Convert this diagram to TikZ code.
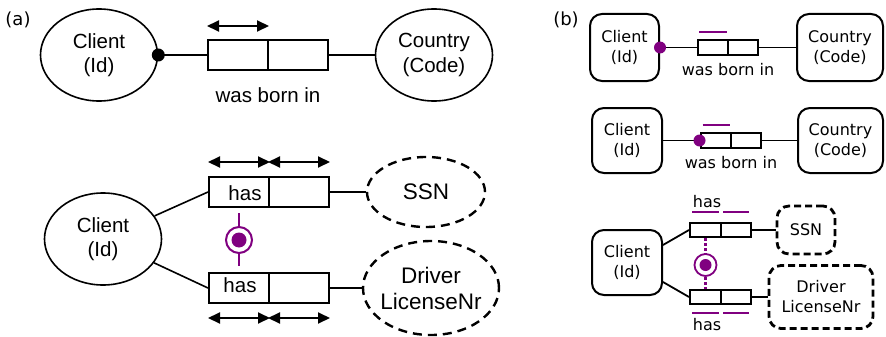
\documentclass[tikz,border=0pt]{standalone}
\usepackage{fontspec}
\setmainfont{Liberation Sans}
\newfontfamily\vfont{DejaVu Sans}
\usetikzlibrary{shapes.geometric,arrows.meta}
\definecolor{pu}{RGB}{128,0,128}
\begin{document}
\begin{tikzpicture}[x=1pt,y=-1pt,
  afont/.style={font=\fontsize{20.5}{24.5}\selectfont},
  bfont/.style={font=\vfont\fontsize{16}{20}\selectfont},
  ent/.style={ellipse,draw,line width=1.6pt,inner sep=0pt,align=center,afont,minimum width=117pt,minimum height=92pt},
  dent/.style={ellipse,draw,line width=2.4pt,dash pattern=on 9pt off 6pt,inner sep=0pt,align=center,font=\fontsize{22.5}{26}\selectfont},
  cell/.style={draw,line width=2pt,minimum width=60pt,minimum height=30pt,inner sep=0pt,afont},
  conn/.style={line width=1.6pt},
  spanarrow/.style={line width=2pt,{Triangle[length=12pt,width=11pt]}-{Triangle[length=12pt,width=11pt]}},
  bent/.style={draw,rounded corners=12pt,line width=2pt,align=center,bfont,inner sep=0pt},
  dbent/.style={bent,line width=2.8pt,dash pattern=on 7pt off 4pt},
  bcell/.style={draw,line width=2pt,minimum width=30pt,minimum height=15pt,inner sep=0pt},
  bconn/.style={line width=1.8pt},
  bar/.style={pu,line width=2.5pt},
]
\useasboundingbox (0,0) rectangle (886,337);
% ---------------- (a) ----------------
\node[font=\vfont\fontsize{18}{20}\selectfont] (la) at (18,20) {(a)};
\node[ent] (ca1) at (99,55) {Client\\(Id)};
\node[ent] (co1) at (434,55) {Country\\(Code)};
\node[cell] (r1a) at (238,55) {};
\node[cell] (r1b) at (298,55) {};
\draw[conn] (ca1.east) -- (r1a.west);
\draw[conn] (r1b.east) -- (co1.west);
\fill (ca1.east) circle (6.5pt);
\draw[spanarrow] ([yshift=13pt]r1a.north west) -- ([yshift=13pt]r1a.north east);
\node[afont] (wb1) at (268,95) {was born in};

\node[ent] (ca2) at (103,239) {Client\\(Id)};
\node[cell] (r2a) at (239,192) {};
\node[cell] (r2b) at (299,192) {};
\node[cell] (r3a) at (239,288) {};
\node[cell] (r3b) at (299,288) {};
\node[afont] (has1) at (245,193) {has};
\node[afont] (has2) at (240,285) {has};
\node[dent,minimum width=118pt,minimum height=70pt] (ssn1) at (426,192) {SSN};
\node[dent,minimum width=136pt,minimum height=94pt,inner xsep=-10pt] (dl1) at (431,288) {Driver\\LicenseNr};
\draw[conn] (ca2) -- (r2a.west);
\draw[conn] (ca2) -- (r3a.west);
\draw[conn] (r2b.east) -- (ssn1.west);
\draw[conn] (r3b.east) -- (dl1.west);
\draw[spanarrow] ([yshift=14pt]r2a.north west) -- ([yshift=14pt]r2a.north east);
\draw[spanarrow] ([yshift=14pt]r2b.north west) -- ([yshift=14pt]r2b.north east);
\draw[spanarrow] ([yshift=-14pt]r3a.south west) -- ([yshift=-14pt]r3a.south east);
\draw[spanarrow] ([yshift=-14pt]r3b.south west) -- ([yshift=-14pt]r3b.south east);
\node[circle,draw=pu,line width=2pt,minimum size=26pt,inner sep=0pt] (ex1) at (239,240) {};
\fill[pu] (ex1.center) circle (7.5pt);
\draw[pu,line width=2pt] ([yshift=-5pt]r2a.south) -- (ex1.north);
\draw[pu,line width=2pt] (ex1.south) -- ([yshift=6pt]r3a.north);

% ---------------- (b) ----------------
\node[font=\vfont\fontsize{18}{20}\selectfont] (lb) at (566,20) {(b)};
% row 1
\node[bent,minimum width=69pt,minimum height=67pt] (cb1) at (624.5,47.5) {Client\\(Id)};
\node[bent,minimum width=86pt,minimum height=67pt] (cc1) at (840,47.5) {Country\\(Code)};
\node[bcell] (b1a) at (713,47.5) {};
\node[bcell] (b1b) at (743,47.5) {};
\draw[bconn] (cb1.east) -- (b1a.west);
\draw[bconn] (b1b.east) -- (cc1.west);
\fill[pu] (cb1.east) circle (6pt);
\draw[bar] ([xshift=2pt,yshift=7pt]b1a.north west) -- ([xshift=-2pt,yshift=7pt]b1a.north east);
\node[bfont] (wb2) at (728,70) {was born in};
% row 2
\node[bent,minimum width=70pt,minimum height=65pt] (cb2) at (627,140.5) {Client\\(Id)};
\node[bent,minimum width=85pt,minimum height=65pt] (cc2) at (840.5,140.5) {Country\\(Code)};
\node[bcell] (b2a) at (715.5,140.5) {};
\node[bcell] (b2b) at (745.5,140.5) {};
\draw[bconn] (cb2.east) -- (b2a.west);
\draw[bconn] (b2b.east) -- (cc2.west);
\fill[pu] (b2a.west) circle (6pt);
\draw[bar] ([xshift=3pt,yshift=7pt]b2a.north west) -- ([xshift=-2pt,yshift=7pt]b2a.north east);
\node[bfont] (wb3) at (731,163) {was born in};
% row 3
\node[bent,minimum width=70pt,minimum height=65pt] (cb3) at (627,262.5) {Client\\(Id)};
\node[bcell,minimum width=31pt,minimum height=14pt] (b3a) at (705.5,230) {};
\node[bcell,minimum width=30pt,minimum height=14pt] (b3b) at (736,230) {};
\node[bcell,minimum width=31pt,minimum height=14pt] (b4a) at (705.5,297) {};
\node[bcell,minimum width=30pt,minimum height=14pt] (b4b) at (736,297) {};
\node[dbent,minimum width=58pt,minimum height=48pt] (ssn2) at (806,230) {SSN};
\node[dbent,minimum width=104pt,minimum height=63pt] (dl2) at (821,297) {Driver\\LicenseNr};
\draw[bconn] ([yshift=17.5pt]cb3.east) -- (b3a.west);
\draw[bconn] ([yshift=-19.5pt]cb3.east) -- (b4a.west);
\draw[bconn] (b3b.east) -- (ssn2.west);
\draw[bconn] (b4b.east) -- (dl2.west);
\node[bfont] (has3) at (707,202) {has};
\node[bfont] (has4) at (707,325) {has};
\draw[bar] ([xshift=3pt,yshift=10pt]b3a.north west) -- ([xshift=-3pt,yshift=10pt]b3a.north east);
\draw[bar] ([xshift=3pt,yshift=10pt]b3b.north west) -- ([xshift=-3pt,yshift=10pt]b3b.north east);
\draw[bar] ([xshift=3pt,yshift=-8pt]b4a.south west) -- ([xshift=-3pt,yshift=-8pt]b4a.south east);
\draw[bar] ([xshift=3pt,yshift=-8pt]b4b.south west) -- ([xshift=-3pt,yshift=-8pt]b4b.south east);
\node[circle,draw=pu,line width=1.8pt,minimum size=22pt,inner sep=0pt] (ex2) at (705.5,265) {};
\fill[pu] (ex2.center) circle (6pt);
\draw[pu,line width=2.5pt,dash pattern=on 3pt off 2pt] (b3a.south) -- (ex2.north);
\draw[pu,line width=2.5pt,dash pattern=on 3pt off 2pt] (ex2.south) -- (b4a.north);
\end{tikzpicture}
\end{document}
